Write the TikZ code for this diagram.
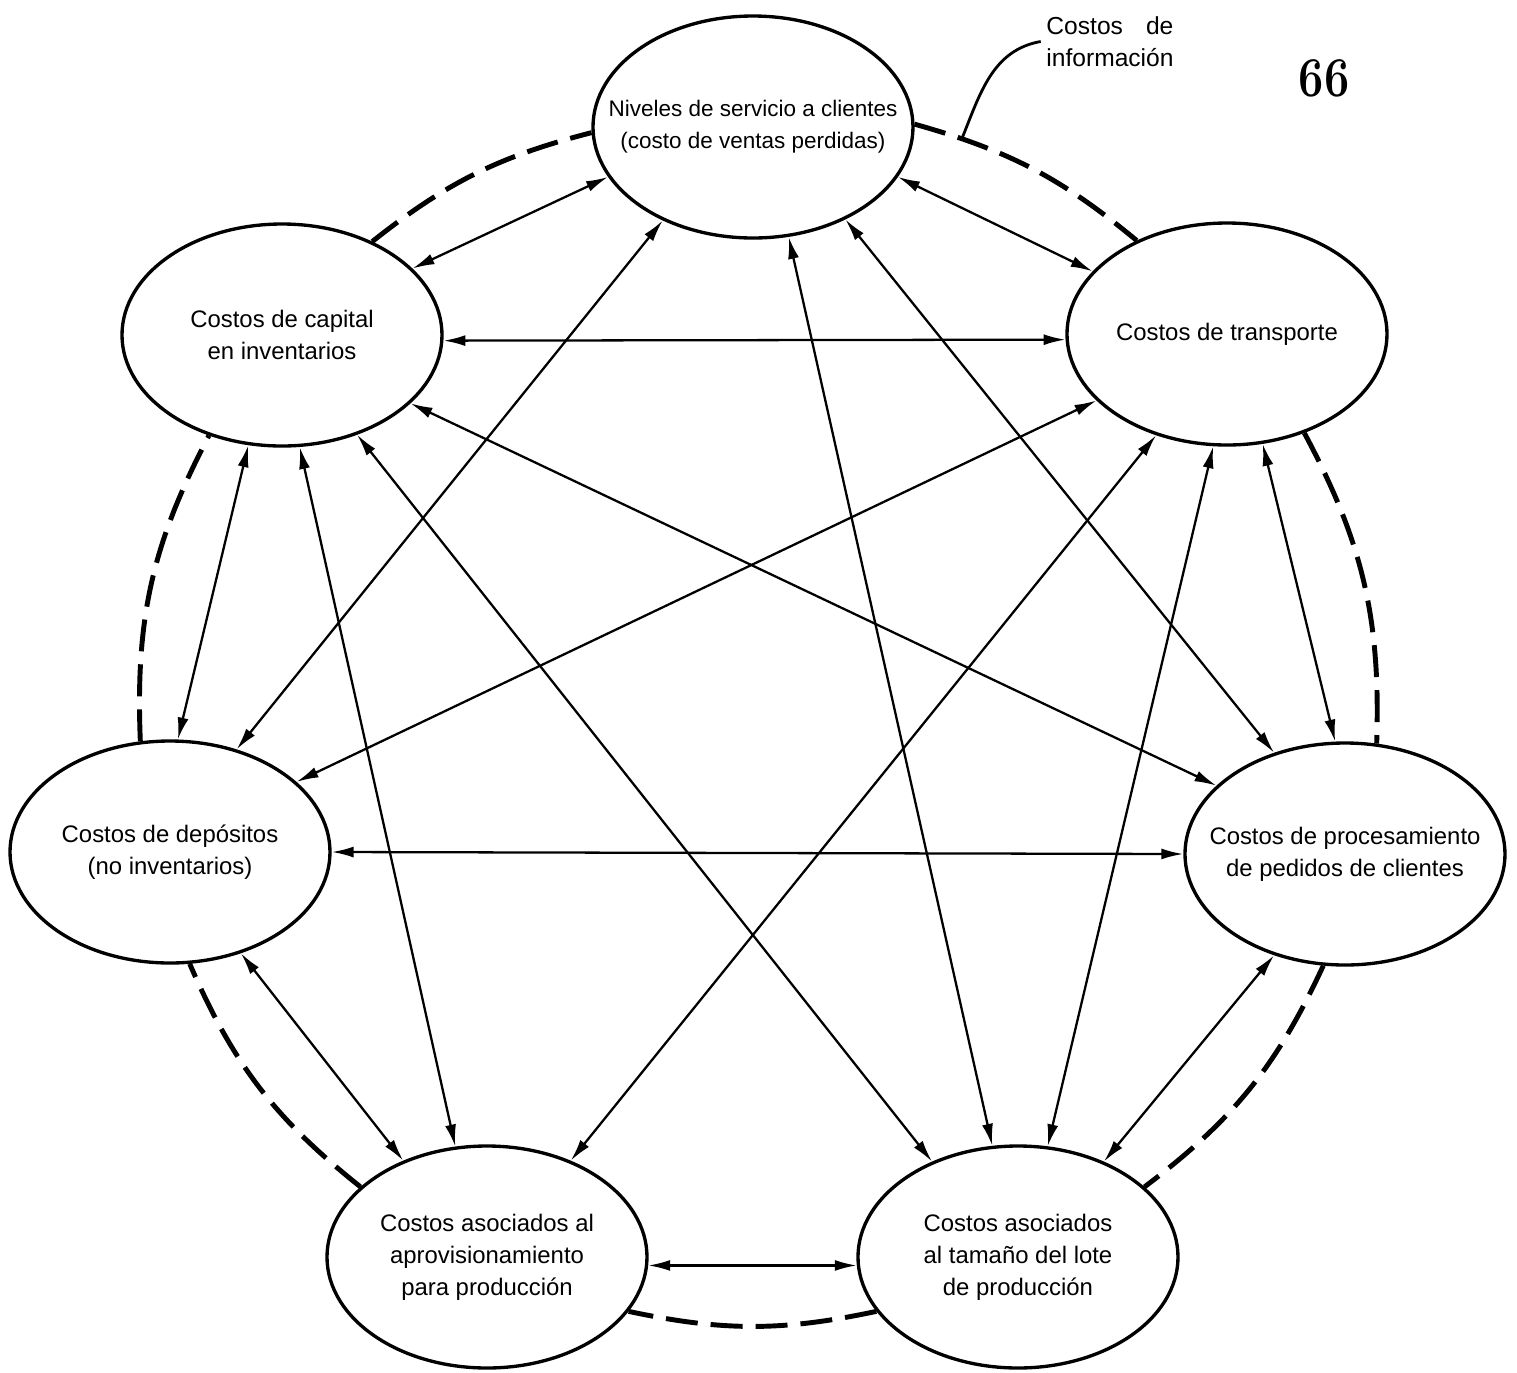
\documentclass[tikz,border=0pt]{standalone}
\usepackage{fontspec}
\setsansfont{Liberation Sans}
\usetikzlibrary{arrows.meta,shapes.geometric}

\begin{document}
\begin{tikzpicture}[
		cost/.style={ellipse, draw, line width=0.95pt, minimum width=3.2cm, minimum height=2.22cm,
			inner xsep=-0.5cm, inner ysep=0pt, align=center, font=\sffamily\fontsize{6.8}{9.1}\selectfont},
		link/.style={{Latex[length=2.2mm,width=1.1mm]}-{Latex[length=2.2mm,width=1.1mm]}, line width=0.65pt},
		infoline/.style={line width=1.4pt, dash pattern=on 3.2mm off 1.3mm}
	]
	\useasboundingbox (0,0) rectangle (15.17,-13.73);

	% the seven cost areas
	\node[cost, font=\sffamily\fontsize{6.4}{9.1}\selectfont] (c1) at (7.53, -1.27) {Niveles de servicio a clientes\\(costo de ventas perdidas)};
	\node[cost] (c2) at (2.82, -3.35) {Costos de capital\\en inventarios};
	\node[cost] (c3) at (12.27, -3.34) {Costos de transporte};
	\node[cost] (c4) at (1.70, -8.52) {Costos de depósitos\\(no inventarios)};
	\node[cost] (c5) at (13.45, -8.54) {Costos de procesamiento\\de pedidos de clientes};
	\node[cost] (c6) at (4.87, -12.57) {Costos asociados al\\aprovisionamiento\\para producción};
	\node[cost] (c7) at (10.18, -12.57) {Costos asociados\\al tamaño del lote\\de producción};

	% trade-offs between areas
	\foreach \a/\p/\b/\q in {1/-161/2/27, 1/-19/3/155, 2/-2/3/182, 1/-134/4/57, 1/-45/5/125,
			1/-72/7/103, 2/-107/4/86, 2/-81/6/106, 2/-53/7/132, 2/-28/5/152, 3/-153/4/29,
			3/-125/6/49, 3/-97/7/75, 3/-72/5/95, 4/0/5/180, 4/-55/6/131, 5/-125/7/48, 6/-3/7/183}
		\draw[link] (c\a.\p) -- (c\b.\q);

	% information costs round the outside
	\draw[infoline] (c1.1) to[bend left=12] coordinate[pos=0.18] (tip) (c3.134);
	\foreach \a/\p/\b/\q/\t in {2/46/1/182/12, 3/-52/5/74/15, 4/105/2/-126/15,
			6/151/4/-80/14, 5/-101/7/29/14, 7/-159/6/-21/12}
		\draw[infoline] (c\a.\p) to[bend left=\t] (c\b.\q);

	\node[align=left, inner sep=0.5mm, font=\sffamily\fontsize{7}{9.1}\selectfont] (infolbl) at (11.10, -0.415)
		{\makebox[1.27cm][s]{Costos de}\\información};
	\draw[line width=0.8pt] (infolbl.west) to[out=190, in=68] (tip);

	\node[font=\bfseries\fontsize{16}{18}\selectfont] (pagenum) at (13.24, -0.78) {\scalebox{0.8}[1]{66}};
\end{tikzpicture}
\end{document}
